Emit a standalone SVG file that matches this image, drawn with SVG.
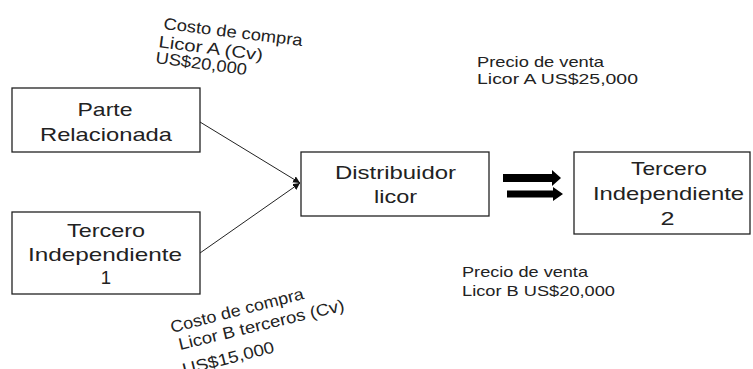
<svg xmlns="http://www.w3.org/2000/svg" width="753" height="369" viewBox="0 0 753 369">
<style>
.box{fill:#fff;stroke:#222;stroke-width:1.3}
.t{font-family:"Liberation Sans",Arial,sans-serif;fill:#222}
.n{font-size:18.5px;text-anchor:middle}
.p{font-size:14.5px}
.r{font-size:16.5px}
.ln{stroke:#222;stroke-width:1;fill:none}
</style>
<defs>
<marker id="ah" viewBox="0 0 10 10" refX="10" refY="5" markerWidth="7" markerHeight="7" markerUnits="userSpaceOnUse" orient="auto">
<path d="M0,0 L10,5 L0,10 Z" fill="#111"/>
</marker>
</defs>
<rect width="753" height="369" fill="#fff"/>
<g id="connectors">
<line class="ln" x1="200" y1="122" x2="300" y2="183" marker-end="url(#ah)"/>
<line class="ln" x1="200" y1="253" x2="300" y2="183" marker-end="url(#ah)"/>
<path d="M503,174 H552 V170 L561,178 L552,186 V182 H503 Z" fill="#000"/>
<path d="M507,190.5 H553 V187 L563,194 L553,201 V197.5 H507 Z" fill="#000"/>
</g>
<g id="parte-relacionada">
<rect class="box" x="12" y="88" width="188" height="64"/>
<text class="t n" x="105" y="116" textLength="55" lengthAdjust="spacingAndGlyphs">Parte</text>
<text class="t n" x="106" y="141" textLength="132" lengthAdjust="spacingAndGlyphs">Relacionada</text>
</g>
<g id="tercero-1">
<rect class="box" x="12" y="212" width="188" height="82"/>
<text class="t n" x="106" y="237" textLength="78" lengthAdjust="spacingAndGlyphs">Tercero</text>
<text class="t n" x="105" y="261" textLength="154" lengthAdjust="spacingAndGlyphs">Independiente</text>
<text class="t n" x="106" y="284">1</text>
</g>
<g id="distribuidor">
<rect class="box" x="301" y="152" width="188" height="64"/>
<text class="t n" x="395.5" y="179" textLength="121" lengthAdjust="spacingAndGlyphs">Distribuidor</text>
<text class="t n" x="395.5" y="203" textLength="43" lengthAdjust="spacingAndGlyphs">licor</text>
</g>
<g id="tercero-2">
<rect class="box" x="574" y="152" width="176" height="82"/>
<text class="t n" x="669" y="175" textLength="76" lengthAdjust="spacingAndGlyphs">Tercero</text>
<text class="t n" x="668.5" y="200" textLength="151" lengthAdjust="spacingAndGlyphs">Independiente</text>
<text class="t n" x="667.5" y="225" textLength="14" lengthAdjust="spacingAndGlyphs">2</text>
</g>
<g id="labels">
<text class="t p" x="477" y="67" textLength="127" lengthAdjust="spacingAndGlyphs">Precio de venta</text>
<text class="t p" x="477" y="84" textLength="161" lengthAdjust="spacingAndGlyphs">Licor A US$25,000</text>
<text class="t p" x="462" y="277" textLength="126" lengthAdjust="spacingAndGlyphs">Precio de venta</text>
<text class="t p" x="462" y="296" textLength="153" lengthAdjust="spacingAndGlyphs">Licor B US$20,000</text>
<text class="t r" x="163" y="29" transform="rotate(7 163 29)" textLength="140" lengthAdjust="spacingAndGlyphs">Costo de compra</text>
<text class="t r" x="158" y="47" transform="rotate(7.5 158 47)" textLength="105" lengthAdjust="spacingAndGlyphs">Licor A (Cv)</text>
<text class="t r" x="155" y="63" transform="rotate(7.5 155 63)" textLength="92" lengthAdjust="spacingAndGlyphs">US$20,000</text>
<text class="t r" x="172" y="333" transform="rotate(-14.5 172 333)" textLength="137" lengthAdjust="spacingAndGlyphs">Costo de compra</text>
<text class="t r" x="180" y="350" transform="rotate(-13.5 180 350)" textLength="170" lengthAdjust="spacingAndGlyphs">Licor B terceros  (Cv)</text>
<text class="t r" x="184" y="375" transform="rotate(-14 184 375)" textLength="94" lengthAdjust="spacingAndGlyphs">US$15,000</text>
</g>
</svg>
